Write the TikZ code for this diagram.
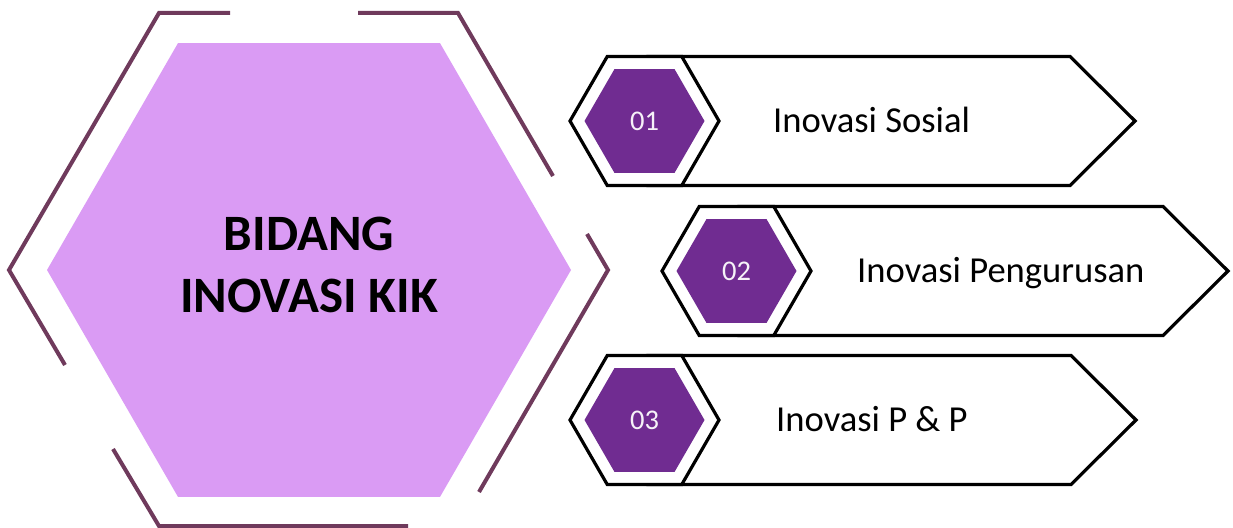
\documentclass[tikz,border=0pt]{standalone}
\usepackage{fontspec}
\setmainfont{Carlito}
\usetikzlibrary{shapes.geometric}

\definecolor{framecol}{HTML}{6F3A5C}
\definecolor{bigfill}{HTML}{DA9BF4}
\definecolor{numfill}{HTML}{702C91}

\begin{document}
\begin{tikzpicture}[x=1pt,y=-1pt]

\tikzset{
  frame line/.style={
    draw=framecol,
    line width=4pt,
  },
  item box/.style={
    draw=black,
    line width=3.2pt,
    fill=white,
  },
  item hex/.style={
    regular polygon, regular polygon sides=6,
    minimum size=149pt, inner sep=0pt,
    draw=black, line width=3.2pt, fill=white,
  },
  num hex/.style={
    regular polygon, regular polygon sides=6,
    minimum size=120pt, inner sep=0pt,
    fill=numfill, text=white!94!numfill,
    font=\fontsize{28.5}{30}\selectfont,
  },
  item label/.style={
    anchor=base west,
    inner sep=0pt,
    font=\fontsize{36.6}{40}\selectfont,
  }
}

  \useasboundingbox (0,0) rectangle (1233,527);

  % Broken frame
  \draw[frame line] (230,13) -- (159,13) -- (9,270) -- (65,365);
  \draw[frame line] (358,13) -- (458,13) -- (553,176);
  \draw[frame line] (587,234) -- (608,270) -- (479,492);
  \draw[frame line] (113,449) -- (159,526) -- (408,526);

  % Main hexagon
  \node[regular polygon, regular polygon sides=6, minimum size=524pt,
        inner sep=0pt, fill=bigfill] (main) at (309,270) {};
  \node[anchor=north, inner sep=0pt, align=center,
        font=\fontsize{51}{62}\selectfont\bfseries] (title) at (309,216.5)
        {BIDANG\\INOVASI KIK};

  % Item 1
  \draw[item box] (648,56.5) -- (1070,56.5) -- (1135,121) -- (1070,185.5) -- (648,185.5) -- cycle;
  \node[item hex] (hex1) at (644.5,121) {};
  \node[num hex] (num1) at (hex1.center) {01};
  \node[item label] (lab1) at (773,132.5) {Inovasi Sosial};

  % Item 2
  \draw[item box] (739,206.5) -- (1163,206.5) -- (1228,271) -- (1163,335.5) -- (739,335.5) -- cycle;
  \node[item hex] (hex2) at (736.5,271) {};
  \node[num hex] (num2) at (hex2.center) {02};
  \node[item label] (lab2) at (857,282.5) {Inovasi Pengurusan};

  % Item 3
  \draw[item box] (648,355.5) -- (1071,355.5) -- (1136,420) -- (1071,484.5) -- (648,484.5) -- cycle;
  \node[item hex] (hex3) at (644.5,420) {};
  \node[num hex] (num3) at (hex3.center) {03};
  \node[item label] (lab3) at (776,431.5) {Inovasi P \& P};

\end{tikzpicture}
\end{document}
